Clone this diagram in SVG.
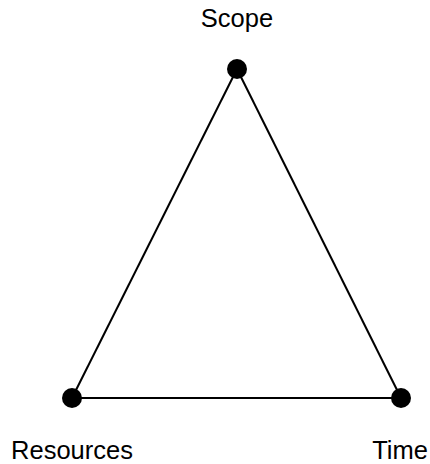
<svg xmlns="http://www.w3.org/2000/svg" width="430" height="464" viewBox="0 0 430 464">
<style>
.lbl{font-family:"Liberation Sans",Arial,sans-serif;font-size:25.5px;fill:#000;text-anchor:middle}
.edge{stroke:#000;stroke-width:2;fill:none}
.dot{fill:#000}
</style>
<rect width="430" height="464" fill="#fff"/>
<g id="connectors">
<line class="edge" x1="237" y1="69" x2="72" y2="398"/>
<line class="edge" x1="237" y1="69" x2="401" y2="398"/>
<line class="edge" x1="72" y1="398" x2="401" y2="398"/>
</g>
<g id="scope"><circle class="dot" cx="237" cy="69" r="10"/><text class="lbl" x="237" y="27">Scope</text></g>
<g id="resources"><circle class="dot" cx="72" cy="398" r="10"/><text class="lbl" x="72" y="459">Resources</text></g>
<g id="time"><circle class="dot" cx="401" cy="398" r="10"/><text class="lbl" x="400" y="459">Time</text></g>
</svg>
